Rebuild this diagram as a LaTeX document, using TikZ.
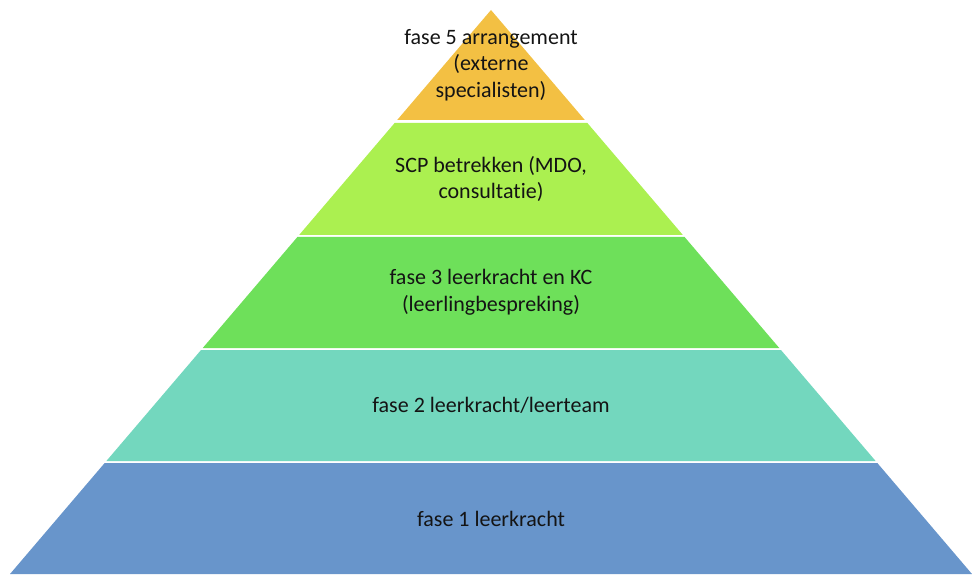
\documentclass[tikz,border=0pt]{standalone}
\usepackage{fontspec}
\setmainfont{Carlito}[Ligatures=NoCommon]
\usepackage{tikz}
\definecolor{faseone}{RGB}{104,149,203}
\definecolor{fasetwo}{RGB}{115,215,190}
\definecolor{fasethree}{RGB}{110,224,90}
\definecolor{fasefour}{RGB}{171,240,80}
\definecolor{fasefive}{RGB}{243,192,67}
\definecolor{tiertext}{RGB}{20,20,20}
\tikzset{tier/.style={text=tiertext, align=center, font=\fontsize{22}{26.5}\selectfont}}

\begin{document}
\begin{tikzpicture}[x=1pt,y=1pt]
\useasboundingbox (0,0) rectangle (978,574);
\foreach \lo/\hi/\col/\name/\txt in {0/111/faseone/fone/{fase 1 leerkracht},113/224/fasetwo/ftwo/{fase 2 leerkracht/leerteam},226/337/fasethree/fthree/{fase 3 leerkracht en KC\\(leerlingbespreking)},339/451/fasefour/ffour/{SCP betrekken (MDO,\\consultatie)},454/564/fasefive/ffive/{fase 5 arrangement\\(externe\\specialisten)}}{
 \pgfmathsetmacro{\wlo}{0.8528*(564-\lo)}
 \pgfmathsetmacro{\whi}{0.8528*(564-\hi)}
 \fill[\col] (491-\wlo,\lo) -- (491+\wlo,\lo) -- (491+\whi,\hi) -- (491-\whi,\hi) -- cycle;
 \node[tier] (\name) at (491,{(\lo+\hi)/2}) {\txt};
 }
\end{tikzpicture}
\end{document}
